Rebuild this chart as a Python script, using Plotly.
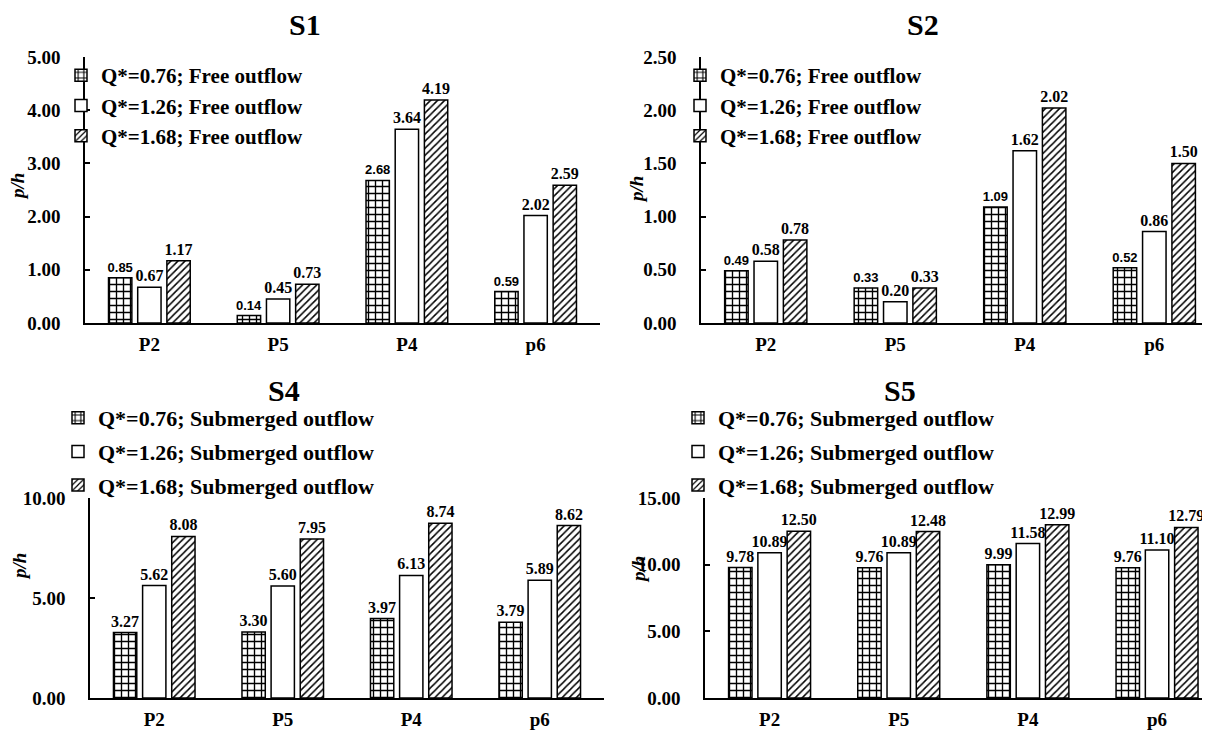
import plotly.graph_objects as go

categories = ["P2", "P5", "P4", "p6"]
series_names_free = ["Q*=0.76; Free outflow", "Q*=1.26; Free outflow", "Q*=1.68; Free outflow"]
series_names_sub = ["Q*=0.76; Submerged outflow", "Q*=1.26; Submerged outflow", "Q*=1.68; Submerged outflow"]

s1_q076 = [0.85, 0.14, 2.68, 0.59]
s1_q126 = [0.67, 0.45, 3.64, 2.02]
s1_q168 = [1.17, 0.73, 4.19, 2.59]

s2_q076 = [0.49, 0.33, 1.09, 0.52]
s2_q126 = [0.58, 0.20, 1.62, 0.86]
s2_q168 = [0.78, 0.33, 2.02, 1.50]

s4_q076 = [3.27, 3.30, 3.97, 3.79]
s4_q126 = [5.62, 5.60, 6.13, 5.89]
s4_q168 = [8.08, 7.95, 8.74, 8.62]

s5_q076 = [9.78, 9.76, 9.99, 9.76]
s5_q126 = [10.89, 10.89, 11.58, 11.10]
s5_q168 = [12.50, 12.48, 12.99, 12.79]

s1_ticks = [0, 1, 2, 3, 4, 5]
s2_ticks = [0, 0.5, 1.0, 1.5, 2.0, 2.5]
s4_ticks = [0, 5, 10]
s5_ticks = [0, 5, 10, 15]

# page body has an 8px margin; figure is sized so it ends at the window edge
OFF = 8
W, H = 1202, 727
SERIF = "Liberation Serif, Times New Roman, serif"
SANS = "Liberation Sans, Arial, sans-serif"


def px(x):
    return (x - OFF) / W


def py(y):
    return 1 - (y - OFF) / H


patterns = [
    dict(shape="+", size=7, solidity=0.35, fgcolor="black", bgcolor="white", fillmode="replace"),
    dict(shape="", fgcolor="black", bgcolor="white"),
    dict(shape="/", size=5, solidity=0.3, fgcolor="black", bgcolor="white", fillmode="replace"),
]

fig = go.Figure()

panels = [
    ("x", "y", "legend", [s1_q076, s1_q126, s1_q168], series_names_free, True),
    ("x2", "y2", "legend2", [s2_q076, s2_q126, s2_q168], series_names_free, True),
    ("x3", "y3", "legend3", [s4_q076, s4_q126, s4_q168], series_names_sub, False),
    ("x4", "y4", "legend4", [s5_q076, s5_q126, s5_q168], series_names_sub, False),
]

for k, (xa, ya, lg, data, names, small_first) in enumerate(panels):
    for i, (vals, name) in enumerate(zip(data, names)):
        if i == 0 and small_first:
            tf = dict(family=SANS, size=13, color="black", weight="bold")
        else:
            tf = dict(family=SERIF, size=16, color="black", weight="bold")
        fig.add_trace(go.Bar(
            x=categories, y=vals, name=name, xaxis=xa, yaxis=ya, legend=lg,
            legendgroup=f"g{k}_{i}",
            marker=dict(color="white", line=dict(color="black", width=1.5), pattern=patterns[i]),
            texttemplate="%{y:.2f}", textposition="outside", textfont=tf,
            constraintext="none", cliponaxis=False,
        ))

tickfont = dict(family=SERIF, size=19, color="black", weight="bold")
xtickfont = dict(family=SERIF, size=19, color="black", weight="bold")


def xax(domain, rng, anchor):
    return dict(domain=domain, range=rng, type="category", showline=True, linecolor="black",
                linewidth=1.5, showgrid=False, zeroline=False, ticks="", tickfont=xtickfont,
                ticklabelstandoff=3, anchor=anchor, automargin=False, fixedrange=True)


def yax(domain, rng, tv, anchor):
    return dict(domain=domain, range=rng, tickvals=tv, tickformat=".2f", showline=True,
                linecolor="black", linewidth=1.5, showgrid=False, zeroline=False,
                ticks="inside", ticklen=5, tickwidth=1.5, tickcolor="black",
                tickfont=tickfont, ticklabelstandoff=19, anchor=anchor, automargin=False,
                fixedrange=True)


top_dom = [py(323), py(57)]
bot_dom = [py(698), py(498)]

legend_font_top = dict(family=SERIF, size=21, color="black", weight="bold")
legend_font_bot = dict(family=SERIF, size=22, color="black", weight="bold")


def leg(x, y, font, gap):
    return dict(x=x, y=y, xanchor="left", yanchor="top", xref="paper", yref="paper",
                font=font, bgcolor="rgba(0,0,0,0)", borderwidth=0, itemwidth=30,
                tracegroupgap=gap, traceorder="grouped")


annotations = []
for text, x, y in [("S1", 305, 25), ("S2", 923, 25), ("S4", 284, 390), ("S5", 900, 390)]:
    annotations.append(dict(text=text, x=px(x), y=py(y), xref="paper", yref="paper",
                            showarrow=False, xanchor="center", yanchor="middle",
                            font=dict(family=SERIF, size=30, color="black", weight="bold")))
for x, y in [(17, 187), (636, 190), (19, 567), (638, 570)]:
    annotations.append(dict(text="<i>p/h</i>", x=px(x), y=py(y), xref="paper", yref="paper",
                            showarrow=False, xanchor="center", yanchor="middle", textangle=-90,
                            font=dict(family=SERIF, size=19, color="black", weight="bold")))

fig.update_layout(
    width=W, height=H,
    margin=dict(l=0, r=0, t=0, b=0, pad=0, autoexpand=False),
    paper_bgcolor="white", plot_bgcolor="white",
    barmode="group", bargap=0.32, bargroupgap=0.2,
    showlegend=True,
    xaxis=xax([px(85), px(600)], [-0.5, 3.5], "y"),
    yaxis=yax(top_dom, [0, 5], s1_ticks, "x"),
    xaxis2=xax([px(701), 1.0], [-0.5, 3.43], "y2"),
    yaxis2=yax(top_dom, [0, 2.5], s2_ticks, "x2"),
    xaxis3=xax([px(90), px(604)], [-0.5, 3.5], "y3"),
    yaxis3=yax(bot_dom, [0, 10], s4_ticks, "x3"),
    xaxis4=xax([px(705), 1.0], [-0.5, 3.41], "y4"),
    yaxis4=yax(bot_dom, [0, 15], s5_ticks, "x4"),
    legend=leg(px(61), py(55), legend_font_top, 0),
    legend2=leg(px(680), py(55), legend_font_top, 0),
    legend3=leg(px(58), py(397), legend_font_bot, 2),
    legend4=leg(px(678), py(397), legend_font_bot, 2),
    annotations=annotations,
    font=dict(family=SERIF, color="black"),
)

fig.write_html("out.html")
